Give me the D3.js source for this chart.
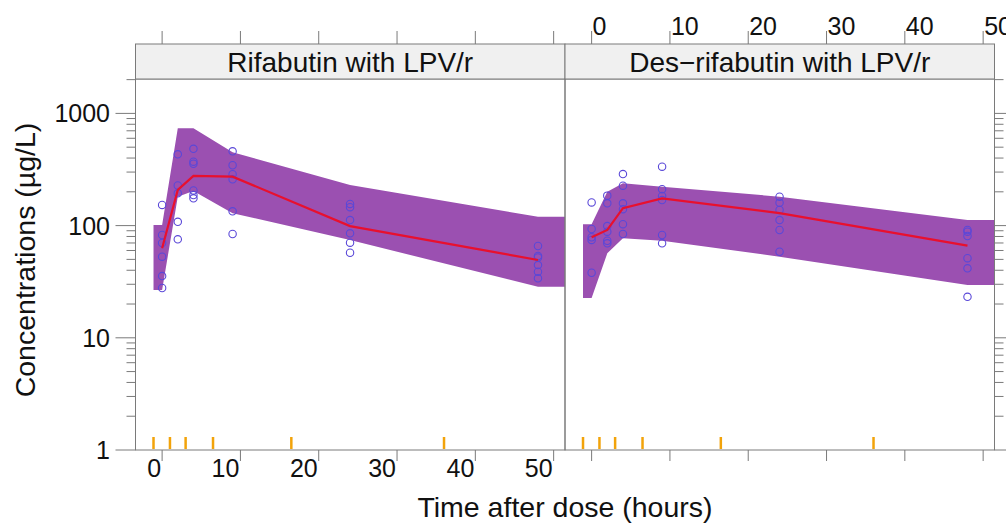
<!DOCTYPE html>
<html>
<head>
<meta charset="utf-8">
<script src="https://cdn.jsdelivr.net/npm/d3@7"></script>
<style>
  html, body { margin: 0; padding: 0; background: #fff; }
  svg { display: block; font-family: "Liberation Sans", Arial, sans-serif; }
</style>
</head>
<body>
<svg id="chart" width="1006" height="524"></svg>
<script>
// ---------------- data ----------------
const panelTitles = ["Rifabutin with LPV/r", "Des\u2212rifabutin with LPV/r"];
const obsTimes = [0, 2, 4, 9, 24, 48];
const rifObs = [
  [153, 82.5, 70, 52.8, 35.5, 27.8],
  [432, 228, 194, 108, 75.5],
  [483, 371, 356, 206, 187, 175],
  [459, 345, 287, 259, 134, 84.2],
  [156, 146, 112, 85.4, 70.4, 57.3],
  [65.8, 53.6, 52, 44.5, 38.8, 33.9]
];
const desObs = [
  [161, 93.3, 78.7, 74.5, 38],
  [185, 158, 99, 88.3, 73.3, 69.5],
  [288, 227, 158, 140, 103, 84.2],
  [335, 211, 184, 169, 82.5, 69.5],
  [181, 160, 138, 112, 91.4, 58.5],
  [91.4, 88.3, 80.8, 51.2, 41.6, 23.2]
];
const bandTimes = [-1.1, 0, 2, 4, 9, 24, 48, 52];
const rifUpper = [101, 101, 736, 736, 450, 230, 120, 120];
const rifLower = [26.7, 26.7, 181, 203, 129, 74.4, 28.5, 28.5];
const desUpper = [103, 103, 200, 238, 222, 181, 112, 112];
const desLower = [22.6, 22.6, 56.6, 77, 73.4, 52.8, 29.5, 29.5];
const medianTimes = [0, 2, 4, 9, 24, 48];
const rifMedian = [62.8, 208, 277, 273, 99, 49.4];
const desMedian = [78.7, 91.4, 143, 175, 129, 66.2];
const binBreaks = [-1.1, 1, 3, 6.5, 16.5, 36];
const xTicks = [0, 10, 20, 30, 40, 50];
const yTicks = [1, 10, 100, 1000];
const xLabel = "Time after dose (hours)";
const yLabel = "Concentrations (\u00b5g/L)";

// ---------------- layout ----------------
const svg = d3.select("#chart");
const pTop = 79, pBottom = 450, stripTop = 44;
const panelX = [[135.5, 565], [565, 994.5]];
const xDomain = [-3.4, 51.45];
const y = d3.scaleLog().domain([1, 2026]).range([pBottom, pTop]);
const frame = "#7a7a7a";
const bandCol = "#9b50b1";
const ptCol = "#5a48d8";
const lineCol = "#e8102e";
const rugCol = "#f2a30a";

const panelData = [
  { obs: rifObs, upper: rifUpper, lower: rifLower, median: rifMedian },
  { obs: desObs, upper: desUpper, lower: desLower, median: desMedian }
];

// minor log ticks
const minorTicks = [];
for (let d = 1; d <= 1000; d *= 10) for (let k = 2; k <= 9; k++) { const v = k * d; if (v <= 2026) minorTicks.push(v); }

panelData.forEach((pd, i) => {
  const [x0, x1] = panelX[i];
  const x = d3.scaleLinear().domain(xDomain).range([x0, x1]);
  const g = svg.append("g");

  const clipId = "clip" + i;
  svg.append("clipPath").attr("id", clipId).append("rect")
    .attr("x", x0).attr("y", pTop).attr("width", x1 - x0).attr("height", pBottom - pTop);
  const inner = g.append("g").attr("clip-path", `url(#${clipId})`);

  // band
  const area = d3.area()
    .x((d, j) => x(bandTimes[j]))
    .y0((d, j) => y(pd.lower[j]))
    .y1((d, j) => y(pd.upper[j]));
  inner.append("path").datum(bandTimes).attr("d", area).attr("fill", bandCol);

  // points
  pd.obs.forEach((vals, j) => {
    inner.selectAll(null).data(vals).enter().append("circle")
      .attr("cx", x(obsTimes[j])).attr("cy", d => y(d)).attr("r", 3.7)
      .attr("fill", "none").attr("stroke", ptCol).attr("stroke-width", 1.1);
  });

  // median line
  const line = d3.line().x((d, j) => x(medianTimes[j])).y(d => y(d));
  inner.append("path").datum(pd.median).attr("d", line)
    .attr("fill", "none").attr("stroke", lineCol).attr("stroke-width", 2.2);

  // rug
  inner.selectAll(null).data(binBreaks).enter().append("line")
    .attr("x1", d => x(d)).attr("x2", d => x(d))
    .attr("y1", 437).attr("y2", 449)
    .attr("stroke", rugCol).attr("stroke-width", 2.5);

  // panel border
  g.append("rect").attr("x", x0).attr("y", pTop).attr("width", x1 - x0).attr("height", pBottom - pTop)
    .attr("fill", "none").attr("stroke", frame).attr("stroke-width", 1);

  // strip
  g.append("rect").attr("x", x0).attr("y", stripTop).attr("width", x1 - x0).attr("height", pTop - stripTop)
    .attr("fill", "#f0f0f0").attr("stroke", frame).attr("stroke-width", 1);
  g.append("text").attr("x", (x0 + x1) / 2).attr("y", 72).attr("text-anchor", "middle")
    .attr("font-size", 28).attr("fill", "#111").text(panelTitles[i]);

  // x ticks bottom & top
  g.selectAll(null).data(xTicks).enter().append("line")
    .attr("x1", d => x(d)).attr("x2", d => x(d)).attr("y1", pBottom).attr("y2", pBottom + 11)
    .attr("stroke", frame);
  g.selectAll(null).data(xTicks).enter().append("line")
    .attr("x1", d => x(d)).attr("x2", d => x(d)).attr("y1", stripTop).attr("y2", stripTop - 13)
    .attr("stroke", frame);
  if (i === 0) {
    g.selectAll(null).data(xTicks).enter().append("text")
      .attr("x", d => x(d) - 1).attr("y", 477).attr("text-anchor", "end")
      .attr("font-size", 25).attr("fill", "#111").text(d => d);
  } else {
    g.selectAll(null).data(xTicks).enter().append("text")
      .attr("x", d => x(d) + 1).attr("y", 35).attr("text-anchor", "start")
      .attr("font-size", 25).attr("fill", "#111").text(d => d);
  }

  // y ticks
  const side = i === 0 ? -1 : 1;
  const ax = i === 0 ? x0 : x1;
  g.selectAll(null).data(yTicks).enter().append("line")
    .attr("x1", ax).attr("x2", ax + side * 20).attr("y1", d => y(d)).attr("y2", d => y(d))
    .attr("stroke", frame);
  g.selectAll(null).data(minorTicks).enter().append("line")
    .attr("x1", ax).attr("x2", ax + side * 9).attr("y1", d => y(d)).attr("y2", d => y(d))
    .attr("stroke", frame);
  if (i === 0) {
    g.selectAll(null).data(yTicks).enter().append("text")
      .attr("x", 110).attr("y", d => y(d)).attr("dy", "0.36em").attr("text-anchor", "end")
      .attr("font-size", 25).attr("fill", "#111").text(d => d);
  }
});

// axis titles
svg.append("text").attr("x", 565).attr("y", 517).attr("text-anchor", "middle")
  .attr("font-size", 28.5).attr("fill", "#111").text(xLabel);
svg.append("text").attr("transform", "translate(35,260) rotate(-90)").attr("text-anchor", "middle")
  .attr("font-size", 28.5).attr("fill", "#111").text(yLabel);
</script>
</body>
</html>
